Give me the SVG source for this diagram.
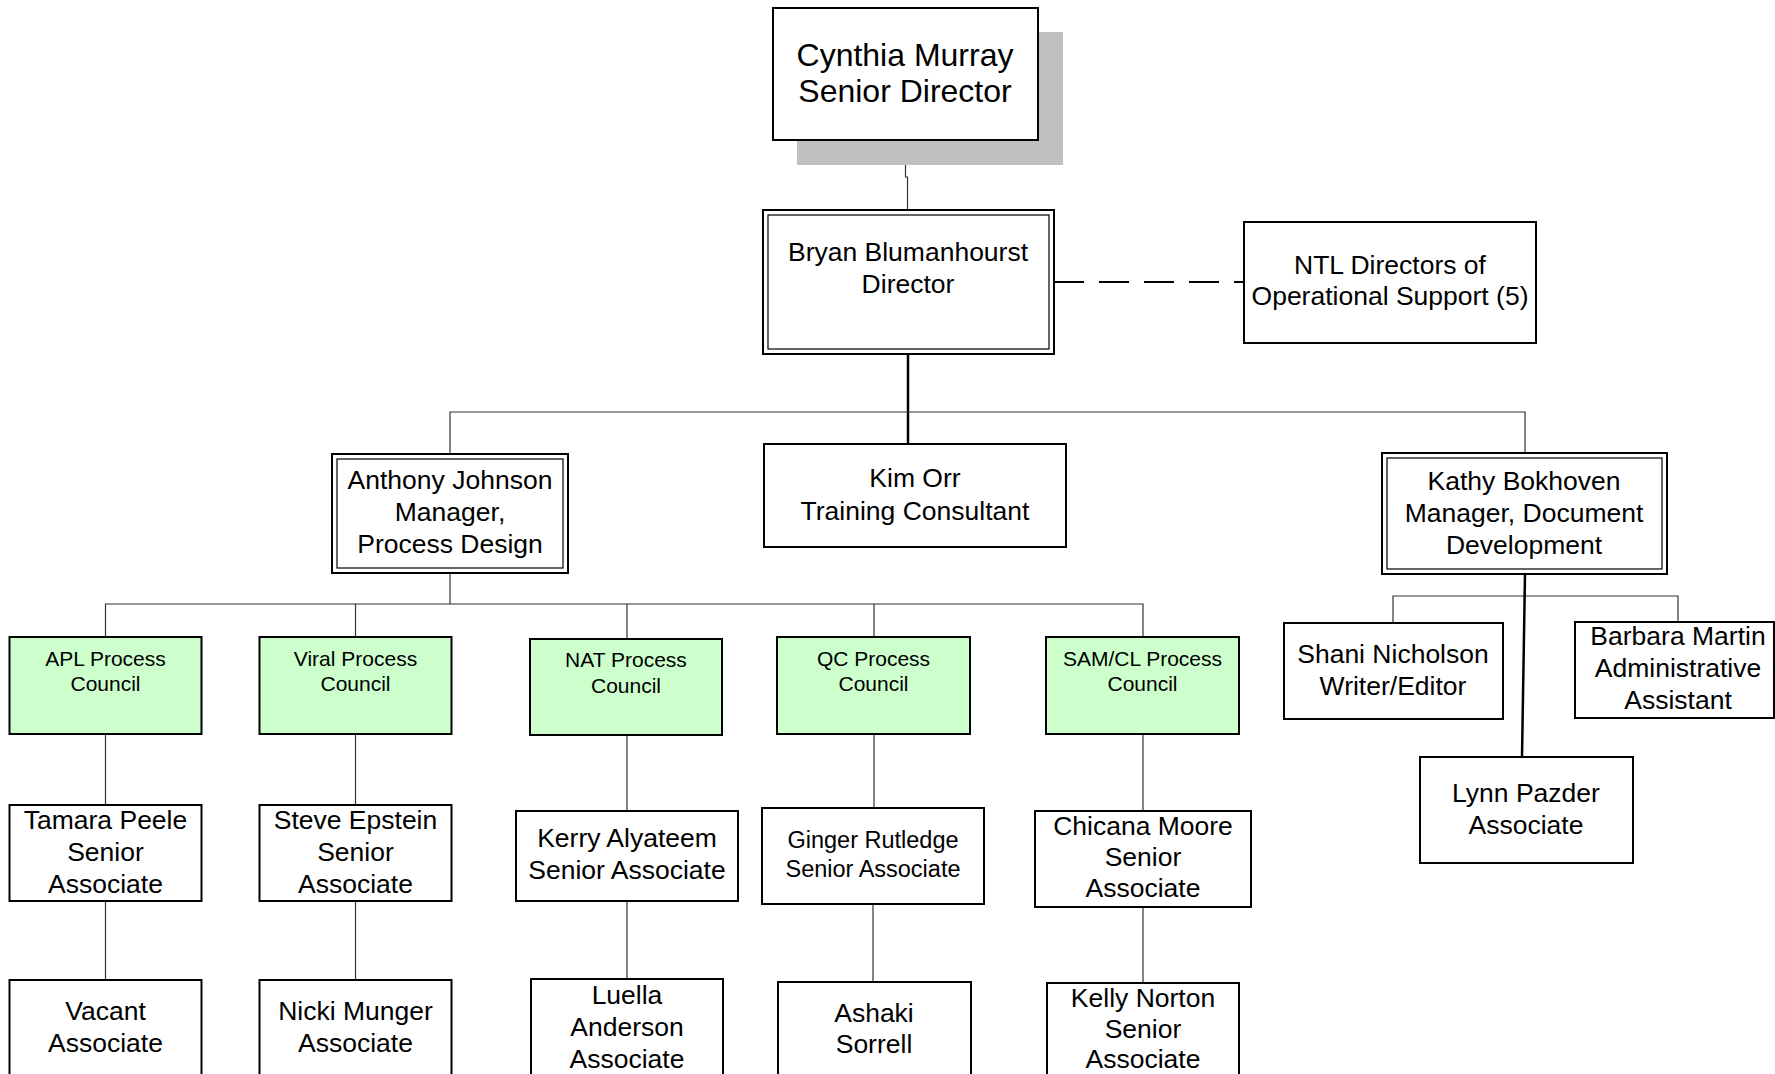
<svg xmlns="http://www.w3.org/2000/svg" width="1775" height="1074" viewBox="0 0 1775 1074">
<style>
.bx{fill:#fff;stroke:#000;stroke-width:2}
.cn{fill:#ccffcc;stroke:#000;stroke-width:2}
.in{fill:none;stroke:#000;stroke-width:1.2}
.ln{fill:none;stroke:#333;stroke-width:1.2}
.lt{fill:none;stroke:#000;stroke-width:2.5}
.ds{fill:none;stroke:#000;stroke-width:2;stroke-dasharray:30 15}
text{font-family:"Liberation Sans",Arial,sans-serif;font-size:26.5px;fill:#000;text-anchor:middle}
.s{font-size:21px}
.g{font-size:23.5px}
.b{font-size:32px}
</style>
<rect width="1775" height="1074" fill="#fff"/>
<g id="connectors">
<path class="ln" d="M905.5 140V177H907.5V210"/>
<path class="lt" d="M908 355V444"/>
<path class="ln" d="M450 454V412H1525V453"/>
<path class="ds" d="M1054 282H1244"/>
<path class="ln" d="M450 573V604"/>
<path class="ln" d="M105.5 637V604H1143V637"/>
<path class="ln" d="M355.5 604V637M627 604V639M874 604V637"/>
<path class="ln" d="M105.5 734V805M355.5 734V805M627 735V811M874 734V808M1143 734V811"/>
<path class="ln" d="M105.5 901V980M355.5 901V980M627 901V980M873 904V982M1143 907V983"/>
<path class="ln" d="M1393 623V596H1678V622"/>
<path class="lt" d="M1525 574L1522 757"/>
</g>
<g id="cynthia">
<rect x="797" y="32" width="266" height="133" fill="#c0c0c0"/>
<rect class="bx" x="773" y="8" width="265" height="132"/>
<text class="b" x="905" y="66">Cynthia Murray</text>
<text class="b" x="905" y="102">Senior Director</text>
</g>
<g id="bryan">
<rect class="bx" x="763" y="210" width="291" height="144"/>
<rect class="in" x="768" y="215" width="281" height="134"/>
<text x="908" y="261">Bryan Blumanhourst</text>
<text x="908" y="293">Director</text>
</g>
<g id="ntl">
<rect class="bx" x="1244" y="222" width="292" height="121"/>
<text x="1390" y="274">NTL Directors of</text>
<text x="1390" y="305">Operational Support (5)</text>
</g>
<g id="anthony">
<rect class="bx" x="332" y="454" width="236" height="119"/>
<rect class="in" x="337" y="459" width="226" height="109"/>
<text x="450" y="489">Anthony Johnson</text>
<text x="450" y="521">Manager,</text>
<text x="450" y="553">Process Design</text>
</g>
<g id="kim">
<rect class="bx" x="764" y="444" width="302" height="103"/>
<text x="915" y="487">Kim Orr</text>
<text x="915" y="520">Training Consultant</text>
</g>
<g id="kathy">
<rect class="bx" x="1382" y="453" width="285" height="121"/>
<rect class="in" x="1387" y="458" width="275" height="111"/>
<text x="1524" y="490">Kathy Bokhoven</text>
<text x="1524" y="522">Manager, Document</text>
<text x="1524" y="554">Development</text>
</g>
<g id="shani">
<rect class="bx" x="1284" y="623" width="219" height="96"/>
<text x="1393" y="663">Shani Nicholson</text>
<text x="1393" y="695">Writer/Editor</text>
</g>
<g id="barbara">
<rect class="bx" x="1575" y="622" width="199" height="96"/>
<text x="1678" y="645">Barbara Martin</text>
<text x="1678" y="677">Administrative</text>
<text x="1678" y="709">Assistant</text>
</g>
<g id="lynn">
<rect class="bx" x="1420" y="757" width="213" height="106"/>
<text x="1526" y="802">Lynn Pazder</text>
<text x="1526" y="834">Associate</text>
</g>
<g id="apl">
<rect class="cn" x="9.5" y="637" width="192" height="97"/>
<text class="s" x="105.5" y="666">APL Process</text>
<text class="s" x="105.5" y="691">Council</text>
</g>
<g id="viral">
<rect class="cn" x="259.5" y="637" width="192" height="97"/>
<text class="s" x="355.5" y="666">Viral Process</text>
<text class="s" x="355.5" y="691">Council</text>
</g>
<g id="nat">
<rect class="cn" x="530" y="639" width="192" height="96"/>
<text class="s" x="626" y="667">NAT Process</text>
<text class="s" x="626" y="693">Council</text>
</g>
<g id="qc">
<rect class="cn" x="777" y="637" width="193" height="97"/>
<text class="s" x="873.5" y="666">QC Process</text>
<text class="s" x="873.5" y="691">Council</text>
</g>
<g id="samcl">
<rect class="cn" x="1046" y="637" width="193" height="97"/>
<text class="s" x="1142.5" y="666">SAM/CL Process</text>
<text class="s" x="1142.5" y="691">Council</text>
</g>
<g id="tamara">
<rect class="bx" x="9.5" y="805" width="192" height="96"/>
<text x="105.5" y="829">Tamara Peele</text>
<text x="105.5" y="861">Senior</text>
<text x="105.5" y="893">Associate</text>
</g>
<g id="steve">
<rect class="bx" x="259.5" y="805" width="192" height="96"/>
<text x="355.5" y="829">Steve Epstein</text>
<text x="355.5" y="861">Senior</text>
<text x="355.5" y="893">Associate</text>
</g>
<g id="kerry">
<rect class="bx" x="516" y="811" width="222" height="90"/>
<text x="627" y="847">Kerry Alyateem</text>
<text x="627" y="879">Senior Associate</text>
</g>
<g id="ginger">
<rect class="bx" x="762" y="808" width="222" height="96"/>
<text class="g" x="873" y="848">Ginger Rutledge</text>
<text class="g" x="873" y="877">Senior Associate</text>
</g>
<g id="chicana">
<rect class="bx" x="1035" y="811" width="216" height="96"/>
<text x="1143" y="835">Chicana Moore</text>
<text x="1143" y="866">Senior</text>
<text x="1143" y="897">Associate</text>
</g>
<g id="vacant">
<rect class="bx" x="9.5" y="980" width="192" height="100"/>
<text x="105.5" y="1020">Vacant</text>
<text x="105.5" y="1052">Associate</text>
</g>
<g id="nicki">
<rect class="bx" x="259.5" y="980" width="192" height="100"/>
<text x="355.5" y="1020">Nicki Munger</text>
<text x="355.5" y="1052">Associate</text>
</g>
<g id="luella">
<rect class="bx" x="531" y="979" width="192" height="101"/>
<text x="627" y="1004">Luella</text>
<text x="627" y="1036">Anderson</text>
<text x="627" y="1068">Associate</text>
</g>
<g id="ashaki">
<rect class="bx" x="778" y="982" width="193" height="98"/>
<text x="874" y="1022">Ashaki</text>
<text x="874" y="1053">Sorrell</text>
</g>
<g id="kelly">
<rect class="bx" x="1047" y="983" width="192" height="97"/>
<text x="1143" y="1007">Kelly Norton</text>
<text x="1143" y="1038">Senior</text>
<text x="1143" y="1068">Associate</text>
</g>
</svg>
